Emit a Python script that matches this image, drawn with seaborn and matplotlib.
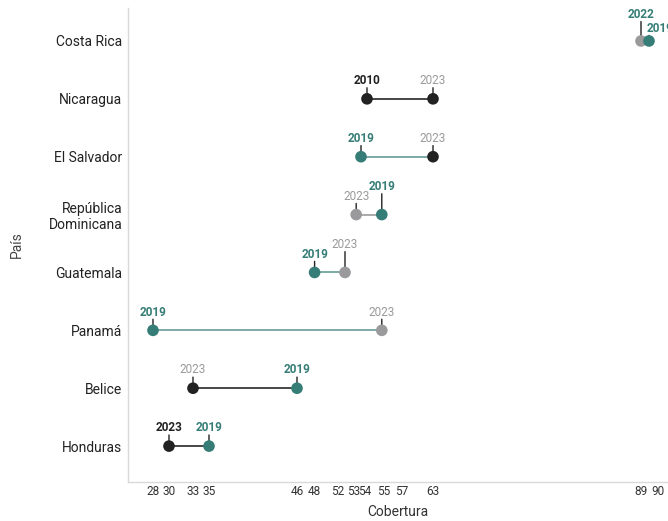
import numpy as np
import pandas as pd
import seaborn as sns
import matplotlib.pyplot as plt
from matplotlib.transforms import ScaledTranslation

# datos
paises = ["Costa Rica", "Nicaragua", "El Salvador", "República\nDominicana",
          "Guatemala", "Panamá", "Belice", "Honduras"]
anio_a = ["2022", "2010", "2019", "2023", "2019", "2019", "2023", "2023"]
valor_a = [89, 54.75, 54, 53.4, 48.2, 28, 33, 30]
tipo_a = ["gris", "negro", "verde", "gris", "verde", "verde", "negro", "negro"]
anio_b = ["2019", "2023", "2023", "2019", "2023", "2023", "2019", "2019"]
valor_b = [90, 63, 63, 56.6, 52, 56.6, 46, 35]
tipo_b = ["verde", "negro", "negro", "verde", "gris", "gris", "verde", "verde"]
# color de la etiqueta del anio
etiq_a = ["verde", "negro", "verde", "gris", "verde", "verde", "gris", "negro"]
etiq_b = ["verde", "gris", "gris", "verde", "gris", "gris", "verde", "verde"]

colores = {"verde": "#367d77", "gris": "#9a9a9c", "negro": "#222222"}
# estilo de etiquetas (desplazamiento en puntos)
desfase_a = [14, 8, 8, 8, 8, 8, 8, 8]
desfase_b = [4, 8, 8, 15, 15, 8, 8, 8]
corrimiento_b = [8, 0, 0, 0, 0, 0, 0, 0]

df = pd.DataFrame({
    "País": paises * 2,
    "Cobertura": valor_a + valor_b,
    "tipo": tipo_a + tipo_b,
    "anio": anio_a + anio_b,
    "etiq": etiq_a + etiq_b,
    "desfase": desfase_a + desfase_b,
    "corr": [0] * len(paises) + corrimiento_b,
})

sns.set_theme(style="white")
plt.rcParams["font.family"] = ["Roboto", "DejaVu Sans"]

fig = plt.figure(figsize=(6.68, 5.21), dpi=100)
ax = fig.add_axes([0.1916, 0.0749, 0.8084, 0.9098])

# lineas entre los dos puntos (color del punto izquierdo)
for i, p in enumerate(paises):
    izq = tipo_a[i] if valor_a[i] <= valor_b[i] else tipo_b[i]
    c = colores[izq]
    ax.plot([valor_a[i], valor_b[i]], [i, i], color=c, lw=1.3,
            alpha=0.7 if izq == "verde" else 0.9, zorder=1)

sns.scatterplot(data=df, x="Cobertura", y="País", hue="tipo", palette=colores,
                s=70, linewidth=0, legend=False, ax=ax, zorder=4)

for _, r in df.iterrows():
    y = paises.index(r["País"])
    # palito vertical
    ax.annotate("", xy=(r["Cobertura"], y), xytext=(0, r["desfase"]),
                textcoords="offset points",
                arrowprops=dict(arrowstyle="-", color="#222222", lw=1,
                                shrinkA=0, shrinkB=0),
                annotation_clip=False, zorder=3)
    peso = "normal" if r["etiq"] == "gris" else "bold"
    ax.annotate(r["anio"], xy=(r["Cobertura"], y), xytext=(r["corr"], r["desfase"] + 0.5),
                textcoords="offset points", ha="center", va="bottom",
                fontsize=8.5, color=colores[r["etiq"]], fontweight=peso,
                annotation_clip=False, zorder=3)

# ticks en cada valor, etiqueta redondeada
ticks_x = sorted(set(valor_a + valor_b))
ax.set_xlim(24.875, 92.375)
ax.set_ylim(7.62, -0.57)
ax.set_xticks(ticks_x)
ax.set_xticklabels([str(int(round(t))) for t in ticks_x], fontsize=8.5, color="#333333")
ax.set_yticks(range(len(paises)))
ax.set_yticklabels(paises, fontsize=10, color="#222222")
ax.tick_params(axis="both", length=0)
ax.tick_params(axis="x", pad=2)
ax.tick_params(axis="y", pad=4)
# separar etiquetas que se enciman (pixeles)
ajuste = {52: -7, 53.4: -3, 54: 4, 54.75: 17, 56.6: 20, 90: 9}
for t, lab in zip(ticks_x, ax.get_xticklabels()):
    dx = ajuste.get(t, 0)
    if dx:
        lab.set_transform(lab.get_transform() + ScaledTranslation(dx / 100, 0, fig.dpi_scale_trans))
ax.set_xlabel("Cobertura", fontsize=10, color="#333333", labelpad=5)
ax.set_ylabel("País", fontsize=10, color="#444444", labelpad=18)
sns.despine(ax=ax)
for s in ["left", "bottom"]:
    ax.spines[s].set_color("#d9d9d9")
    ax.spines[s].set_linewidth(1)

fig.savefig("out.png", dpi=100)
